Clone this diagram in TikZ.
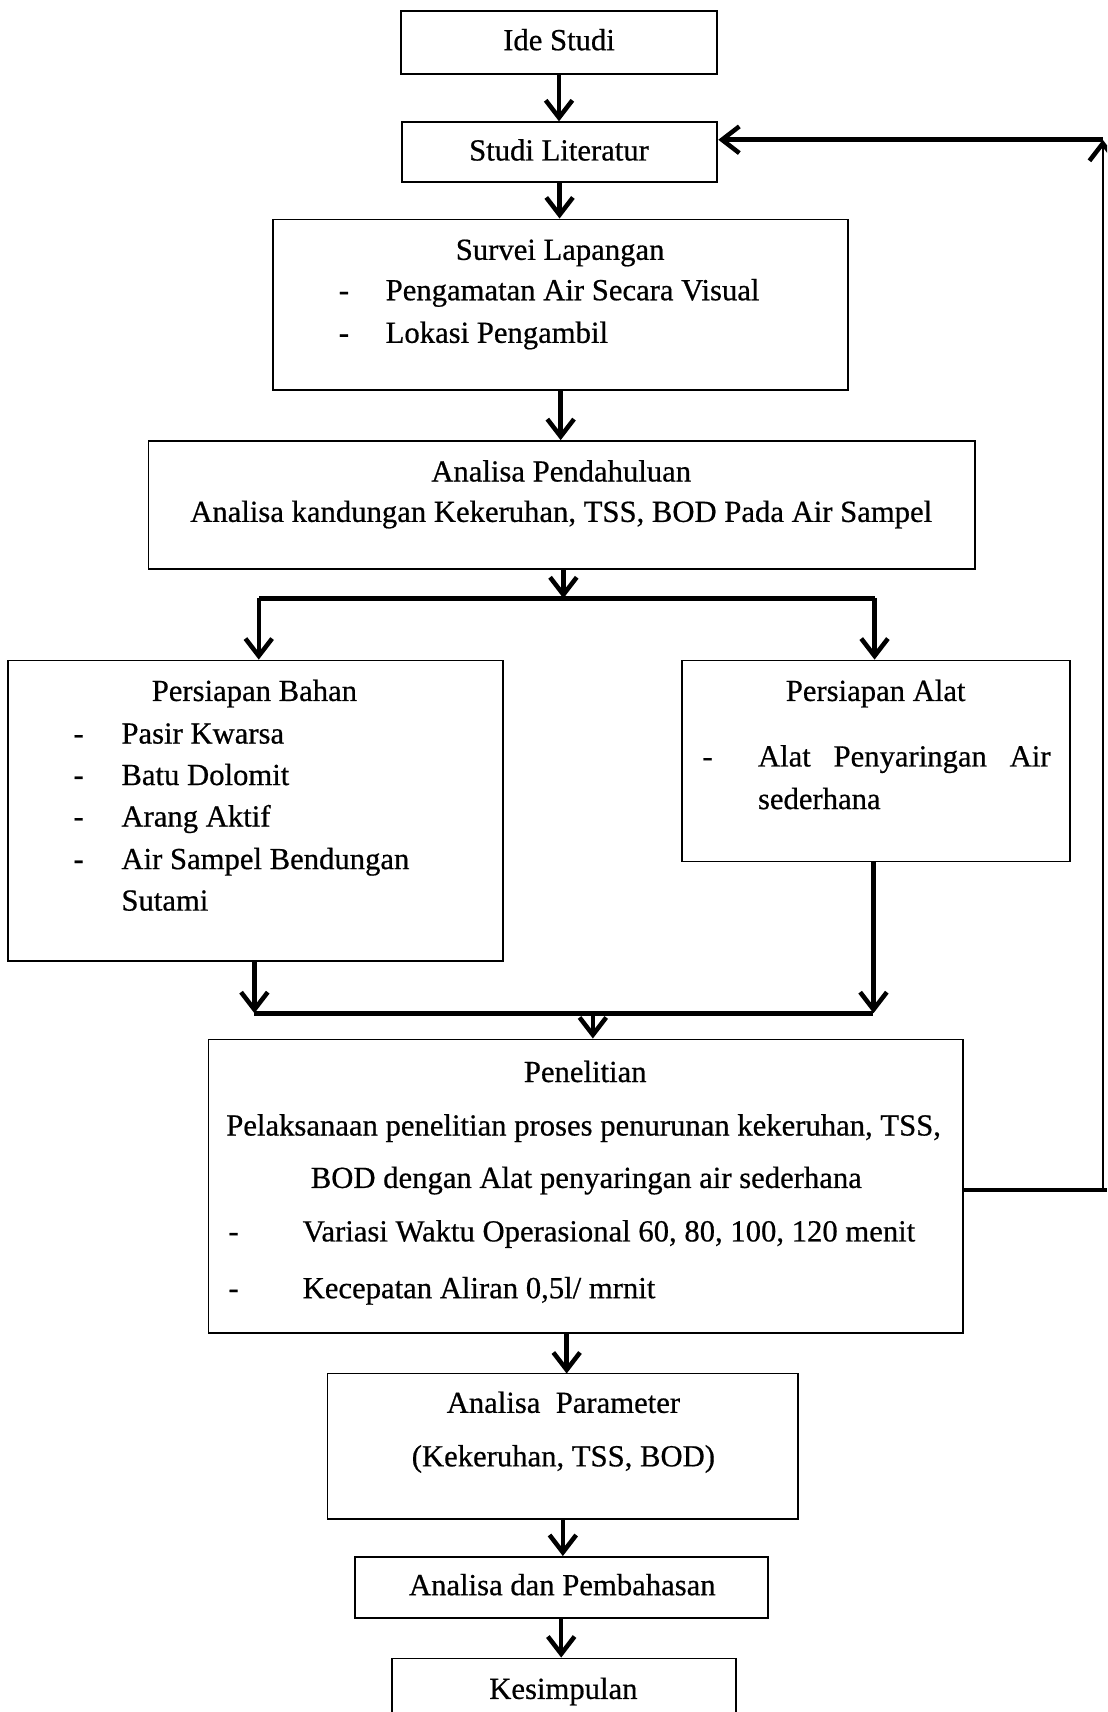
\documentclass[tikz,border=0pt]{standalone}
\usepackage{fontspec}
\setmainfont{Liberation Serif}[FakeBold=0.6]
\usetikzlibrary{arrows.meta}

\newcommand{\upx}{0.8188pt}

\begin{document}
\begin{tikzpicture}[
            x=\upx, y=-\upx, % one unit = one pixel of the scan
            font=\fontsize{23}{28}\selectfont,
            box/.style = {draw, line width=1.4pt, inner sep=0pt}, % frame
            txt/.style = {inner sep=0pt, anchor=base}, % centred line
            item/.style = {inner sep=0pt, anchor=base west}, % list line
            flow/.style = {line width=3.4pt, -{Straight Barb[length=13pt, width=20pt]}},
            wire/.style = {line width=3.4pt}
        ]

        \clip (0,0) rectangle (1014,1568);

        % frames
        \node[box, minimum width=290*\upx, minimum height=58*\upx] (ide) at (512,39) {};
        \node[box, minimum width=289*\upx, minimum height=55*\upx] (lit) at (512.5,139.5) {};
        \node[box, minimum width=527*\upx, minimum height=156*\upx] (survei) at (513.5,279) {};
        \node[box, minimum width=757*\upx, minimum height=117*\upx] (pend) at (514.5,462.5) {};
        \node[box, minimum width=454*\upx, minimum height=275*\upx] (bahan) at (234,742.5) {};
        \node[box, minimum width=355*\upx, minimum height=184*\upx] (alat) at (802.5,697) {};
        \node[box, minimum width=691*\upx, minimum height=269*\upx] (penel) at (536.5,1086.5) {};
        \node[box, minimum width=431*\upx, minimum height=133*\upx] (param) at (515.5,1324.5) {};
        \node[box, minimum width=378*\upx, minimum height=56*\upx] (bahas) at (514,1454) {};
        \node[box, minimum width=315*\upx, minimum height=81*\upx] (kesim) at (516.5,1559.5) {};

        % texts
        \node[txt] (ideT) at (512,46) {Ide Studi};
        \node[txt] (litT) at (512,147) {Studi Literatur};

        \node[txt] (surveiT) at (513,238) {Survei Lapangan};
        \node[txt] (surveiD1) at (315,275) {-};
        \node[item] (surveiA) at (353,275) {Pengamatan Air Secara Visual};
        \node[txt] (surveiD2) at (315,314) {-};
        \node[item] (surveiB) at (353,314) {Lokasi Pengambil};

        \node[txt] (pendT) at (514,441) {Analisa Pendahuluan};
        \node[txt] (pendA) at (514,478) {Analisa kandungan Kekeruhan, TSS, BOD Pada Air Sampel};

        \node[txt] (bahanT) at (233,642) {Persiapan Bahan};
        \node[txt] (bahanD1) at (72,681) {-};
        \node[item] (bahanA) at (111,681) {Pasir Kwarsa};
        \node[txt] (bahanD2) at (72,719) {-};
        \node[item] (bahanB) at (111,719) {Batu Dolomit};
        \node[txt] (bahanD3) at (72,757) {-};
        \node[item] (bahanC) at (111,757) {Arang Aktif};
        \node[txt] (bahanD4) at (72,796) {-};
        \node[item] (bahanD) at (111,796) {Air Sampel Bendungan};
        \node[item] (bahanE) at (111,834) {Sutami};

        \node[txt] (alatT) at (802,642) {Persiapan Alat};
        \node[txt] (alatD1) at (648,702) {-};
        \node[item] (alatA) at (694,702) {\makebox[219.4pt][s]{Alat Penyaringan Air}};
        \node[item] (alatB) at (694,741) {sederhana};

        \node[txt] (penelT) at (536,991) {Penelitian};
        \node[txt] (penelA) at (534.5,1040) {Pelaksanaan penelitian proses penurunan kekeruhan, TSS,};
        \node[txt] (penelB) at (537,1088) {BOD dengan Alat penyaringan air sederhana};
        \node[txt] (penelD1) at (214,1137) {-};
        \node[item] (penelC) at (277,1137) {Variasi Waktu Operasional 60, 80, 100, 120 menit};
        \node[txt] (penelD2) at (214,1189) {-};
        \node[item] (penelD) at (277,1189) {Kecepatan Aliran 0,5l/ mrnit};

        \node[txt] (paramT) at (516,1294) {Analisa\ \ Parameter};
        \node[txt] (paramA) at (516,1343) {(Kekeruhan, TSS, BOD)};
        \node[txt] (bahasT) at (515,1461) {Analisa dan Pembahasan};
        \node[txt] (kesimT) at (516,1556) {Kesimpulan};

        % branch and join points
        \coordinate (split) at (516,548);
        \coordinate (splitL) at (237,548);
        \coordinate (splitR) at (801,548);
        \coordinate (joinL) at (233,928);
        \coordinate (joinR) at (800,928);
        \coordinate (join) at (543,928);
        \coordinate (paramIn) at (519,1258);
        \coordinate (fbEdge) at (1014,1090);
        \coordinate (fbLow) at (1010,1090);
        \coordinate (fbTop) at (1010,128);

        % connectors
        \draw[flow] (ide.south) -- (ide.south |- lit.north);
        \draw[flow] (lit.south) -- (lit.south |- survei.north);
        \draw[flow] (survei.south) -- (survei.south |- pend.north);
        \draw[flow] (pend.south -| split) -- (split);
        \draw[wire] (splitL) -- (splitR);
        \draw[flow] (splitL) -- (splitL |- bahan.north);
        \draw[flow] (splitR) -- (splitR |- alat.north);
        \draw[flow] (bahan.south -| joinL) -- (joinL);
        \draw[flow] (alat.south -| joinR) -- (joinR);
        \draw[wire] (joinL) -- (joinR);
        \draw[flow] (join) -- (join |- penel.north);
        \draw[flow] (penel.south -| paramIn) -- (paramIn);
        \draw[flow] (param.south) -- (param.south |- bahas.north);
        \draw[flow] (bahas.south) -- (bahas.south |- kesim.north);

        % back to the literature study
        \draw[wire] (penel.east |- fbEdge) -- (fbEdge);
        \draw[line width=1.4pt, -{Straight Barb[length=13pt, width=20pt, line width=3.4pt]}] (fbLow) -- (fbTop);
        \draw[flow] (fbTop) -- (lit.east |- fbTop);
\end{tikzpicture}
\end{document}
